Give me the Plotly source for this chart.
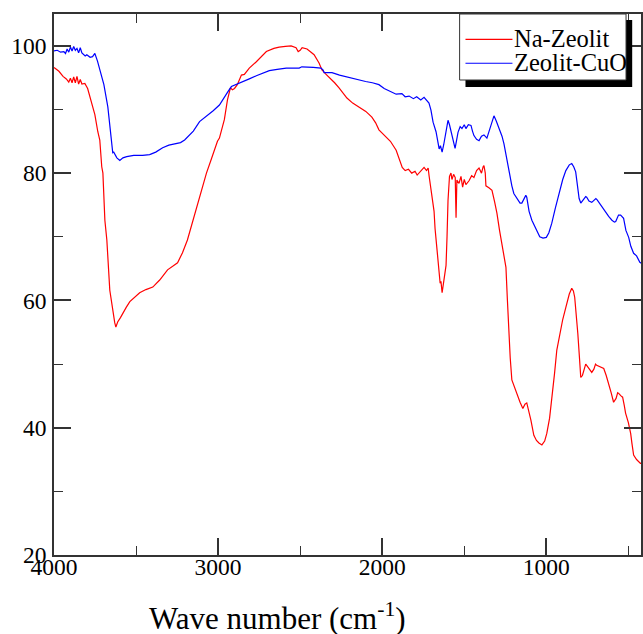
import plotly.graph_objects as go

# ---- data ----
na_wn = [4000, 3970, 3945, 3925, 3910, 3900, 3890, 3880, 3870, 3860, 3850, 3840, 3830, 3812,
         3795, 3781, 3765, 3751, 3733, 3721, 3709, 3702, 3690, 3678, 3660, 3642, 3630, 3623,
         3612, 3595, 3581, 3560, 3538, 3510, 3478, 3440, 3398, 3356, 3308, 3247, 3217, 3187,
         3160, 3132, 3100, 3071, 3040, 3022, 3004, 2992, 2975, 2962, 2943, 2925, 2913, 2900,
         2883, 2870, 2858, 2840, 2810, 2767, 2706, 2660, 2628, 2590, 2555, 2525, 2512, 2500,
         2488, 2458, 2415, 2385, 2367, 2345, 2324, 2290, 2263, 2240, 2215, 2180, 2142, 2100,
         2063, 2040, 2020, 1988, 1950, 1915, 1895, 1878, 1860, 1840, 1820, 1800, 1787, 1770,
         1755, 1745, 1730, 1720, 1714, 1700, 1684, 1678, 1665, 1655, 1647, 1642, 1635, 1625,
         1611, 1605, 1599, 1590, 1581, 1575, 1565, 1555, 1550, 1545, 1532, 1520, 1510, 1500,
         1490, 1471, 1455, 1441, 1425, 1410, 1395, 1385, 1380, 1372, 1368, 1350, 1331, 1315,
         1301, 1285, 1271, 1258, 1246, 1237, 1228, 1220, 1210, 1195, 1179, 1160, 1143, 1130,
         1119, 1105, 1094, 1076, 1060, 1045, 1027, 1010, 997, 980, 967, 950, 936, 915, 900,
         881, 860, 845, 835, 827, 818, 808, 798, 790, 780, 770, 760, 754, 740, 723, 710, 700,
         693, 675, 660, 650, 635, 620, 605, 590, 575, 565, 559, 545, 535, 525, 517, 500, 486,
         478, 468, 450, 426, 400]
na_t = [96.6, 96.0, 95.2, 94.8, 94.3, 94.9, 94.2, 95.1, 94.2, 95.2, 94.0, 94.7, 94.0, 94.1,
        93.3, 92.0, 90.8, 89.2, 86.5, 85.2, 81.0, 80.0, 72.6, 69.5, 61.6, 58.2, 56.5, 55.8,
        56.6, 57.3, 58.0, 58.9, 59.8, 60.5, 61.2, 61.7, 62.1, 63.2, 64.8, 65.9, 67.5, 69.5,
        72.0, 74.7, 77.5, 80.0, 82.3, 83.7, 85.0, 85.5, 87.0, 88.4, 91.5, 93.4, 93.1, 93.3,
        93.9, 94.6, 95.4, 95.5, 96.5, 97.5, 99.1, 99.6, 99.8, 99.9, 100.0, 99.7, 99.1, 99.3,
        99.7, 99.5, 98.6, 97.3, 96.2, 95.6, 95.1, 94.2, 93.4, 92.6, 91.8, 91.0, 90.4, 89.7,
        88.8, 87.9, 86.8, 86.0, 85.0, 83.6, 82.0, 80.9, 80.4, 80.6, 80.0, 80.3, 79.7, 80.2,
        80.6, 80.9, 80.4, 80.8, 79.5, 77.0, 74.0, 71.3, 67.5, 64.5, 62.7, 63.0, 61.2, 63.0,
        65.5, 70.0, 75.7, 79.5, 80.0, 79.0, 79.8, 79.3, 73.0, 78.9, 78.4, 79.5, 77.8, 79.0,
        78.2, 78.8, 79.6, 79.3, 80.4, 80.8, 80.0, 81.0, 81.2, 80.0, 78.0, 77.7, 77.3, 75.5,
        73.7, 71.0, 68.8, 66.7, 65.2, 60.0, 54.8, 51.0, 47.5, 46.4, 45.3, 44.0, 43.0, 43.7,
        43.9, 42.5, 41.2, 38.8, 38.0, 37.6, 37.3, 37.9, 39.1, 41.5, 44.3, 48.5, 52.2, 55.0,
        57.0, 58.9, 61.0, 61.9, 61.5, 60.5, 58.0, 54.8, 51.0, 47.9, 48.2, 49.3, 50.0, 49.8,
        49.3, 48.7, 49.2, 50.0, 49.8, 49.6, 49.5, 49.3, 48.2, 47.0, 45.5, 44.0, 44.6, 45.5,
        45.4, 45.0, 44.8, 43.5, 42.3, 40.8, 39.1, 37.5, 35.7, 35.0, 34.4, 34.2]

cu_wn = [4000, 3980, 3960, 3940, 3930, 3920, 3910, 3900, 3890, 3880, 3870, 3860, 3850, 3840,
         3830, 3820, 3810, 3800, 3780, 3765, 3751, 3735, 3720, 3696, 3672, 3654, 3648, 3642,
         3636, 3617, 3599, 3580, 3557, 3514, 3460, 3417, 3380, 3338, 3300, 3253, 3229, 3204,
         3151, 3113, 3068, 3030, 2992, 2962, 2940, 2919, 2890, 2852, 2810, 2767, 2730, 2688,
         2640, 2585, 2540, 2506, 2490, 2464, 2420, 2373, 2360, 2354, 2306, 2260, 2203, 2150,
         2101, 2060, 2020, 1988, 1950, 1915, 1880, 1860, 1836, 1810, 1790, 1765, 1745, 1733,
         1715, 1703, 1690, 1672, 1660, 1653, 1645, 1635, 1625, 1617, 1605, 1599, 1590, 1580,
         1574, 1565, 1556, 1548, 1538, 1525, 1514, 1500, 1490, 1475, 1459, 1450, 1441, 1425,
         1410, 1395, 1380, 1362, 1345, 1330, 1319, 1305, 1289, 1270, 1258, 1240, 1228, 1210,
         1198, 1175, 1160, 1149, 1135, 1125, 1119, 1105, 1088, 1060, 1040, 1020, 1000, 985,
         967, 945, 924, 900, 881, 860, 845, 833, 821, 810, 800, 790, 775, 760, 754, 740, 723,
         710, 698, 690, 670, 650, 620, 600, 585, 577, 560, 547, 535, 529, 515, 498, 485, 475,
         468, 450, 430, 400]
cu_t = [99.2, 99.3, 99.0, 99.1, 98.8, 99.5, 99.0, 99.8, 99.2, 99.9, 99.3, 99.6, 98.9, 99.7,
        98.9, 98.6, 98.4, 98.6, 98.2, 98.3, 98.8, 97.6, 96.2, 93.9, 90.4, 86.3, 85.2, 83.2,
        83.3, 82.4, 82.0, 82.4, 82.6, 82.8, 82.8, 82.9, 83.3, 84.0, 84.4, 84.7, 84.8, 85.2,
        86.6, 88.1, 89.0, 89.8, 90.7, 92.0, 92.8, 93.6, 93.9, 94.3, 94.8, 95.3, 95.7, 96.1,
        96.3, 96.5, 96.5, 96.5, 96.7, 96.7, 96.6, 96.5, 96.2, 95.8, 95.8, 95.4, 95.0, 94.7,
        94.4, 94.2, 93.9, 93.3, 92.8, 92.4, 92.5, 92.0, 92.1, 91.7, 92.0, 91.5, 91.9, 91.5,
        91.0, 89.9, 88.0, 86.5, 84.8, 83.8, 84.3, 83.3, 84.5, 85.8, 88.0, 88.3, 87.6, 86.5,
        86.0, 84.5, 83.9, 85.0, 86.4, 87.3, 87.0, 87.6, 87.0, 87.6, 87.5, 86.6, 85.9, 85.3,
        85.1, 85.8, 86.0, 85.5, 86.8, 88.0, 89.0, 88.2, 87.2, 85.8, 84.6, 82.0, 80.0, 78.0,
        76.8, 76.0, 75.3, 75.3, 76.0, 76.5, 76.2, 74.0, 72.6, 71.0, 70.0, 69.8, 69.9, 70.6,
        72.1, 74.5, 76.8, 79.0, 80.4, 81.3, 81.5, 81.0, 80.2, 78.0, 76.0, 75.3, 75.8, 76.3,
        76.2, 75.6, 75.4, 75.8, 76.0, 75.8, 75.0, 74.2, 73.2, 72.6, 72.3, 72.4, 73.4, 73.4,
        73.0, 72.9, 71.0, 69.9, 68.5, 68.0, 67.4, 67.0, 66.0, 65.5]

series_names = ["Na-Zeolit", "Zeolit-CuO"]
series_colors = ["#ff0000", "#0000ff"]
x_ticks = [4000, 3000, 2000, 1000]
y_ticks = [20, 40, 60, 80, 100]

FONT = "Liberation Serif"
AX = "#333333"

fig = go.Figure()
for wn, t, name, col in zip([na_wn, cu_wn], [na_t, cu_t], series_names, series_colors):
    fig.add_trace(go.Scatter(x=wn, y=t, mode="lines", name=name,
                             line=dict(color=col, width=1.2), showlegend=False))

axis_common = dict(showgrid=False, zeroline=False, showline=True, linecolor=AX,
                   linewidth=1.5, mirror="ticks", ticks="inside", ticklen=17,
                   tickwidth=1.5, tickcolor=AX,
                   tickfont=dict(family=FONT, size=23.5, color="black"))

fig.update_xaxes(range=[4000, 423], tickvals=x_ticks, ticktext=[str(v) for v in x_ticks],
                 minor=dict(ticks="inside", ticklen=9, dtick=500, tick0=0,
                            tickwidth=1.2, tickcolor=AX),
                 ticklabelstandoff=-10,
                 **axis_common)
fig.update_yaxes(range=[20, 105], tickvals=y_ticks, ticktext=[str(v) for v in y_ticks],
                 minor=dict(ticks="inside", ticklen=9, dtick=10, tick0=0,
                            tickwidth=1.2, tickcolor=AX),
                 ticklabelstandoff=1,
                 **axis_common)

# ---- legend box (with drop shadow), drawn in paper coordinates ----
fig.add_shape(type="rect", xref="paper", yref="paper",
              x0=0.701, x1=0.985, y0=0.865, y1=0.989,
              fillcolor="black", line=dict(width=0), layer="above")
fig.add_shape(type="rect", xref="paper", yref="paper",
              x0=0.691, x1=0.9745, y0=0.878, y1=1.0,
              fillcolor="white", line=dict(color=AX, width=1), layer="above")
leg_y = [0.953, 0.909]
for yy, name, col in zip(leg_y, series_names, series_colors):
    fig.add_shape(type="line", xref="paper", yref="paper",
                  x0=0.701, x1=0.781, y0=yy, y1=yy,
                  line=dict(color=col, width=1.2), layer="above")
    fig.add_annotation(text=name, xref="paper", yref="paper", x=0.781, y=yy + 0.002,
                       xanchor="left", yanchor="middle", showarrow=False,
                       font=dict(family=FONT, size=24.5, color="black"))

fig.add_annotation(text="Wave number (cm<sup>-1</sup>)", xref="paper", yref="paper",
                   x=0.381, y=-0.114, xanchor="center", yanchor="middle",
                   showarrow=False, font=dict(family=FONT, size=31, color="black"))

fig.update_layout(
    width=643, height=634,
    margin=dict(l=54, r=0, t=14, b=79),
    paper_bgcolor="white", plot_bgcolor="white",
    showlegend=False,
)

# remove the default page margin so the figure fills the 643x634 window
fig.write_html("out.html",
               config={"displayModeBar": False},
               post_script="document.body.style.margin='0';"
                           "document.body.style.overflow='hidden';")
